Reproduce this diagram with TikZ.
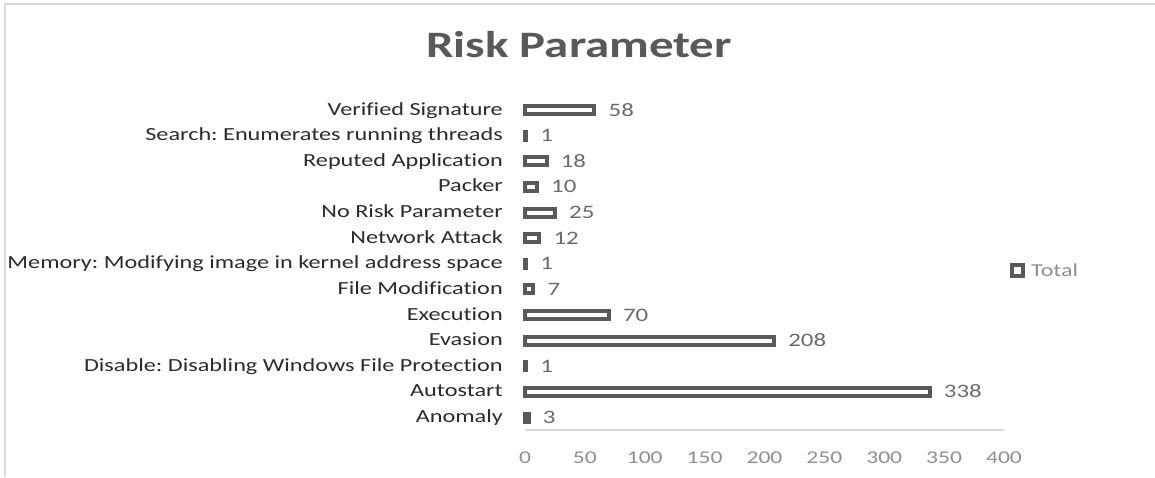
\documentclass[tikz,border=0pt]{standalone}
\usepackage{fontspec}
\setmainfont{Carlito}
\newfontfamily\labf[FakeStretch=1.31,Ligatures={NoCommon}]{Carlito}
\frenchspacing
\definecolor{barc}{HTML}{595959}
\definecolor{labc}{HTML}{2B2B2B}
\definecolor{valc}{HTML}{6A6A6A}
\definecolor{tickc}{HTML}{8F8F8F}
\definecolor{bordc}{HTML}{D9D9D9}
\definecolor{axisc}{HTML}{D9D9D9}
\tikzset{
  barst/.style={draw=barc, fill=white, line width=4pt},
  catst/.style={anchor=base east, inner sep=0pt, text=labc, font=\labf\fontsize{18.5}{20}\selectfont},
  valst/.style={anchor=base west, inner sep=0pt, text=valc, font=\labf\fontsize{19}{20}\selectfont},
  tickst/.style={anchor=base, inner sep=0pt, text=tickc, font=\labf\fontsize{18}{20}\selectfont},
  titlest/.style={anchor=base, inner sep=0pt, text=barc, font=\labf\bfseries\fontsize{37.3}{40}\selectfont}
}
\begin{document}
\begin{tikzpicture}[x=1pt,y=-1pt]
\useasboundingbox (0,0) rectangle (1155,477);
\draw[bordc, line width=2pt] (4.5,477) -- (4.5,3.5) -- (1155,3.5);
\node[titlest] (title) at (579,57) {Risk Parameter};
\foreach \i/\name/\v in {0/Verified Signature/58, 1/Search: Enumerates running threads/1, 2/Reputed Application/18, 3/Packer/10, 4/No Risk Parameter/25, 5/Network Attack/12, 6/Memory: Modifying image in kernel address space/1, 7/File Modification/7, 8/Execution/70, 9/Evasion/208, 10/Disable: Disabling Windows File Protection/1, 11/Autostart/338, 12/Anomaly/3} {
  \pgfmathsetmacro{\y}{110+25.625*\i}
  \pgfmathsetmacro{\xe}{525+\v*1.1975}
  \node[catst] (c\i) at (503,\y+5) {\name};
  \draw[barst] (525,\y-4) rectangle (\xe,\y+4);
  \node[valst] (v\i) at (\xe+14,\y+6) {\v};
}
\draw[axisc, line width=1.2pt] (525,430) -- (1004,430);
\foreach \t in {0,50,...,400} {
  \node[tickst] (t\t) at (525+\t*1.1975,463) {\t};
}
\draw[barst] (1012,265) rectangle (1023,276);
\node[anchor=base west, inner sep=0pt, text=tickc, font=\labf\fontsize{18.3}{20}\selectfont] (legend) at (1031,276.5) {Total};
\end{tikzpicture}
\end{document}
